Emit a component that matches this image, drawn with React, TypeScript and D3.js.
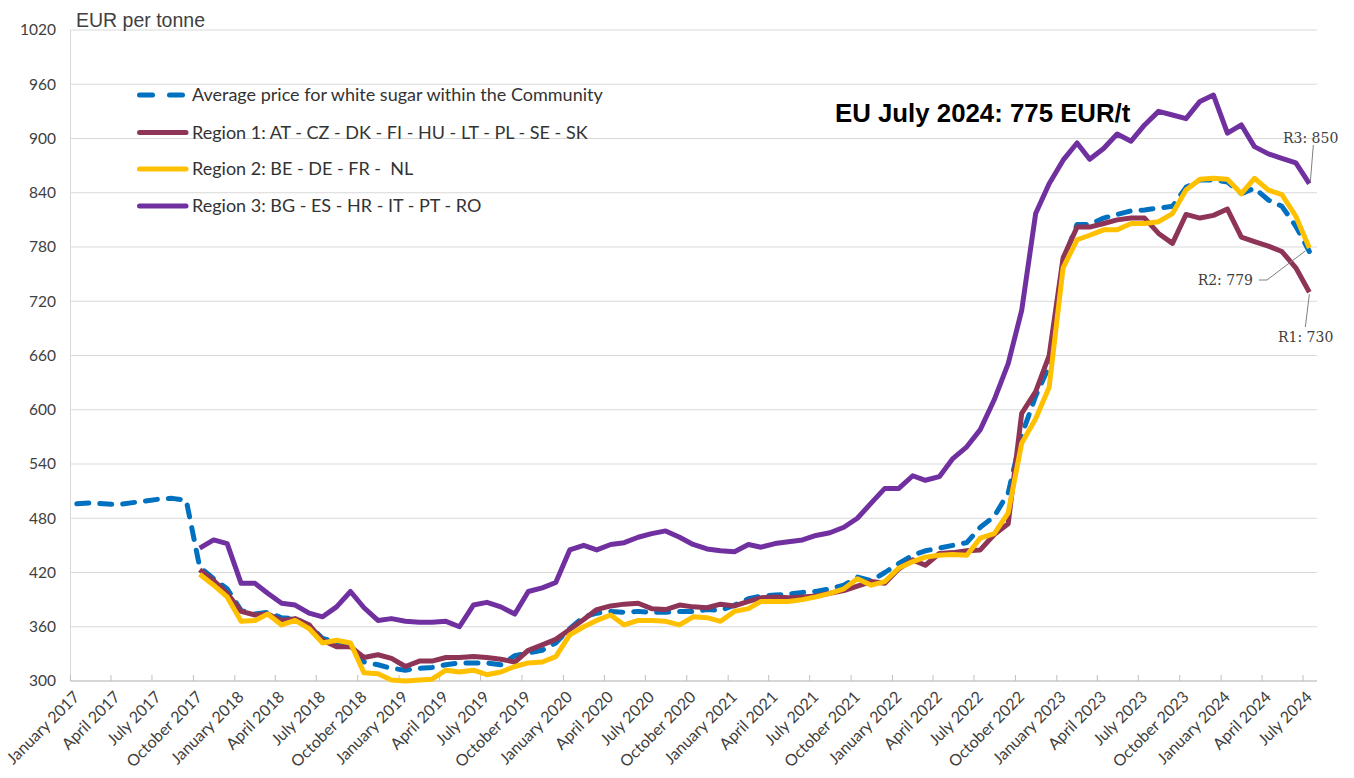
import React from "react";
import * as d3 from "d3";

// ---- Data (EUR per tonne), monthly Jan 2017 .. Jul 2024 ----
const startMonth = new Date(2017, 0, 1);
const endMonth = new Date(2024, 7, 1); // exclusive
const months: Date[] = d3.timeMonth.range(startMonth, endMonth);

const avgPrice: (number | null)[] = [
  496, 497, 496, 495, 497, 499, 501, 502, 500,
  426, 413, 402, 378, 374, 376, 370, 369, 362, 347, 343, 340,
  321, 318, 314, 312, 314, 315, 318, 320, 320, 320, 318, 328,
  331, 334, 342, 358, 371, 375, 377, 376, 377, 376, 376, 377,
  377, 379, 378, 384, 391, 394, 395, 396, 398, 399, 402, 406,
  415, 411, 420, 430, 439, 444, 447, 450, 453, 470, 482, 508,
  572, 615, 648, 765, 805, 805, 812, 816, 820, 821, 823, 825,
  846, 854, 854, 852, 839, 845, 832, 825, 803, 775,
];

const region1: (number | null)[] = [
  null, null, null, null, null, null, null, null, null,
  423, 411, 397, 377, 373, 374, 367, 369, 362, 345, 338, 338,
  326, 329, 325, 316, 322, 322, 326, 326, 327, 326, 324, 321,
  334, 340, 346, 357, 368, 379, 383, 385, 386, 380, 379, 384,
  382, 381, 385, 383, 388, 392, 393, 392, 393, 394, 397, 400,
  405, 410, 408, 424, 434, 428, 441, 442, 444, 445, 462, 474,
  596, 620, 660, 768, 802, 802, 806, 810, 812, 812, 795, 784,
  816, 812, 815, 822, 791, 786, 781, 775, 757, 730,
];

const region2: (number | null)[] = [
  null, null, null, null, null, null, null, null, null,
  418, 406, 393, 366, 367, 374, 362, 367, 358, 342, 345, 342,
  309, 308, 301, 300, 301, 302, 312, 310, 312, 307, 310, 316,
  320, 321, 327, 351, 360, 367, 373, 362, 367, 367, 366, 362,
  371, 370, 366, 377, 380, 388, 388, 388, 390, 393, 397, 402,
  413, 406, 410, 425, 432, 437, 439, 440, 439, 458, 463, 486,
  563, 590, 625, 757, 788, 793, 799, 799, 806, 806, 808, 817,
  843, 855, 856, 855, 839, 856, 843, 838, 814, 779,
];

const region3: (number | null)[] = [
  null, null, null, null, null, null, null, null, null,
  447, 456, 452, 408, 408, 397, 386, 384, 375, 371, 382, 399,
  381, 367, 369, 366, 365, 365, 366, 360, 384, 387, 382, 374,
  399, 403, 409, 445, 450, 445, 451, 453, 459, 463, 466, 459,
  451, 446, 444, 443, 451, 448, 452, 454, 456, 461, 464, 470,
  480, 497, 513, 513, 527, 522, 526, 546, 559, 578, 611, 651,
  710, 817, 850, 876, 895, 877, 889, 905, 897, 915, 930, 926,
  922, 941, 948, 906, 915, 891, 883, 878, 873, 850,
];

const seriesNames = [
  "Average price for white sugar within the Community",
  "Region 1: AT - CZ - DK - FI - HU - LT - PL - SE - SK",
  "Region 2: BE - DE - FR -  NL",
  "Region 3: BG - ES - HR - IT - PT - RO",
];
const seriesColors = ["#0070C0", "#8E3557", "#FFC000", "#7030A0"];
const seriesData = [avgPrice, region1, region2, region3];

const yTicks = d3.range(300, 1021, 60);
const endLabels = ["R3: 850", "R2: 779", "R1: 730"];
const titleText = "EU July 2024: 775 EUR/t";
const yAxisTitle = "EUR per tonne";

// ---- Layout ----
const W = 1354;
const H = 778;
const left = 70.5;
const right = 1317;
const top = 30;
const bottom = 681;

export default function App() {
  const x = d3.scaleTime().domain([startMonth, endMonth]).range([left, right]);
  const y = d3.scaleLinear().domain([300, 1020]).range([bottom, top]);
  const xPoint = (d: Date) => x(d3.timeDay.offset(d, 14));
  const line = d3
    .line<number | null>()
    .defined((v) => v != null)
    .x((_, i) => xPoint(months[i]))
    .y((v) => y(v as number))
    .curve(d3.curveLinear);

  const quarterTicks = d3.timeMonth.every(3)!.range(startMonth, new Date(2024, 7, 1));
  const fmt = d3.timeFormat("%B %Y");

  const lastIdx = months.length - 1;
  const lastX = xPoint(months[lastIdx]);
  const r3y = y(region3[lastIdx] as number);
  const r2y = y(region2[lastIdx] as number);
  const r1y = y(region1[lastIdx] as number);

  const legendY = [95, 132.5, 169, 206];

  return (
    <svg width={W} height={H} style={{ position: "absolute", left: 0, top: 0, background: "#fff" }}>
      {/* grid */}
      {yTicks.map((t) => (
        <line key={t} x1={left} x2={right} y1={y(t)} y2={y(t)} stroke="#d9d9d9" strokeWidth={1} />
      ))}
      <line x1={left} x2={left} y1={top} y2={bottom} stroke="#d9d9d9" strokeWidth={1} />
      <line x1={left} x2={right} y1={bottom} y2={bottom} stroke="#bfbfbf" strokeWidth={1.2} />
      {quarterTicks.map((d, i) => (
        <line key={i} x1={x(d)} x2={x(d)} y1={bottom} y2={bottom - 6} stroke="#bfbfbf" strokeWidth={1} />
      ))}

      {/* y labels */}
      {yTicks.map((t) => (
        <text key={t} x={56} y={y(t)} dy="0.35em" textAnchor="end" fontFamily="Lato" fontSize={15.5} fill="#404040">
          {t}
        </text>
      ))}
      <text x={76} y={27} fontFamily="Liberation Sans" fontSize={19.5} fill="#404040">
        {yAxisTitle}
      </text>

      {/* x labels */}
      {quarterTicks.map((d, i) => (
        <text
          key={i}
          transform={`translate(${x(d) + 10},${bottom + 17}) rotate(-45)`}
          textAnchor="end"
          fontFamily="Lato"
          fontSize={16}
          fill="#404040"
        >
          {fmt(d)}
        </text>
      ))}

      {/* series */}
      {seriesData.map((s, i) => (
        <path
          key={i}
          d={line(s) || ""}
          fill="none"
          stroke={seriesColors[i]}
          strokeWidth={5}
          strokeLinejoin="round"
          strokeLinecap={i === 0 ? "round" : "butt"}
          strokeDasharray={i === 0 ? "12 11" : undefined}
        />
      ))}

      {/* legend */}
      {seriesNames.map((n, i) => (
        <g key={i}>
          <line
            x1={139.5}
            x2={i === 0 ? 183 : 186}
            y1={legendY[i]}
            y2={legendY[i]}
            stroke={seriesColors[i]}
            strokeWidth={5}
            strokeLinecap="round"
            strokeDasharray={i === 0 ? "13 17" : undefined}
          />
          <text
            x={192}
            y={legendY[i]}
            dy="0.35em"
            fontFamily="Lato"
            fontSize={18}
            fill="#333"
            style={{ whiteSpace: "pre" }}
          >
            {n}
          </text>
        </g>
      ))}

      {/* title */}
      <text x={835} y={122} fontFamily="Liberation Sans" fontWeight="bold" fontSize={25.8} fill="#000">
        {titleText}
      </text>

      {/* end labels */}
      <line x1={lastX + 4} y1={145} x2={lastX + 1} y2={r3y - 2} stroke="#7f7f7f" strokeWidth={1} />
      <text x={1283} y={138} dy="0.35em" fontFamily="DejaVu Serif" fontSize={14} fill="#404040">
        {endLabels[0]}
      </text>
      <polyline
        points={`1259,280 1267,280 ${lastX - 4},${r2y + 3}`}
        fill="none"
        stroke="#7f7f7f"
        strokeWidth={1}
      />
      <text x={1253} y={280} dy="0.35em" textAnchor="end" fontFamily="DejaVu Serif" fontSize={14} fill="#404040">
        {endLabels[1]}
      </text>
      <line x1={lastX - 4} y1={327} x2={lastX} y2={r1y + 2} stroke="#7f7f7f" strokeWidth={1} />
      <text x={1278} y={337} dy="0.35em" fontFamily="DejaVu Serif" fontSize={14} fill="#404040">
        {endLabels[2]}
      </text>
    </svg>
  );
}
